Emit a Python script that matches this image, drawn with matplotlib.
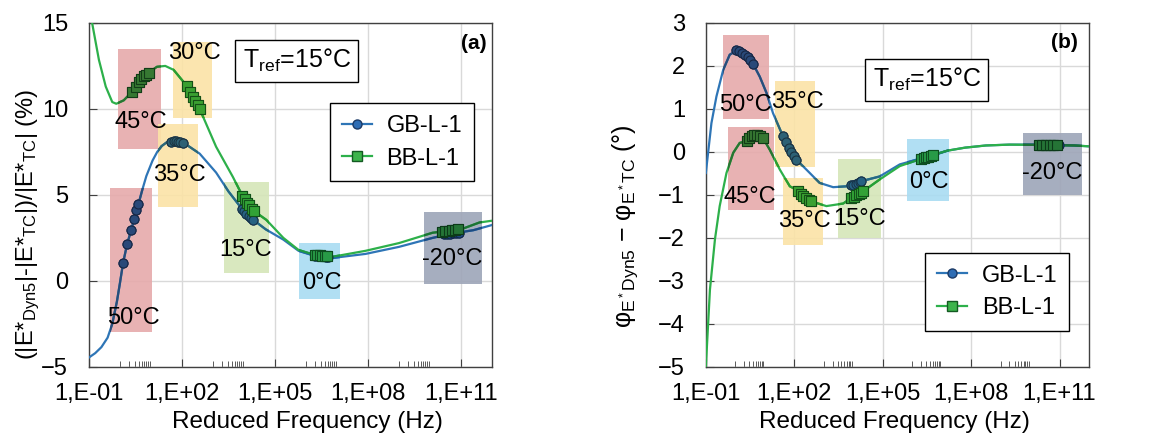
import numpy as np
import matplotlib.pyplot as plt
from matplotlib.colors import to_rgb
from matplotlib.lines import Line2D
from matplotlib.patches import Rectangle
from matplotlib.ticker import FixedLocator, NullFormatter

plt.rcParams['font.family'] = ['Liberation Sans', 'DejaVu Sans']
plt.rcParams['mathtext.fontset'] = 'custom'
plt.rcParams['mathtext.rm'] = 'Liberation Sans'
plt.rcParams['mathtext.it'] = 'Liberation Sans:italic'

# ---- data (x values given as log10 of reduced frequency in Hz) ----
# panel (a): |E*| difference (%)
a_gb_logf = [-1.0, -0.8, -0.6, -0.4, -0.25, -0.1, 0.0, 0.1, 0.23, 0.36, 0.46, 0.6,
             0.72, 0.85, 1.05, 1.2, 1.35, 1.5, 1.66, 1.85, 2.02, 2.2, 2.57, 3.1,
             3.5, 3.93, 4.3, 4.7, 5.27, 5.76, 6.3, 6.84, 7.92, 9.0, 10.08, 10.7,
             11.4, 12.0]
a_gb_val = [-4.45, -4.2, -3.85, -3.3, -2.5, -1.2, -0.1, 1.05, 2.15, 2.95, 3.6, 4.5,
            5.3, 6.1, 7.0, 7.5, 7.85, 8.05, 8.1, 8.1, 8.0, 7.85, 7.4, 6.3,
            5.2, 4.2, 3.55, 3.0, 2.4, 1.75, 1.45, 1.33, 1.57, 1.98, 2.5, 2.75,
            2.95, 3.25]
a_bb_logf = [-1.0, -0.9, -0.68, -0.46, -0.25, -0.12, 0.12, 0.39, 0.6, 0.92, 1.19,
             1.46, 1.73, 2.15, 2.57, 3.1, 3.64, 3.95, 4.33, 4.72, 5.27, 5.76, 6.3,
             6.84, 7.92, 9.0, 10.08, 10.6, 11.0, 11.6, 12.0]
a_bb_val = [16.0, 15.0, 12.85, 11.3, 10.4, 10.3, 10.5, 11.0, 11.55, 12.1, 12.45,
            12.5, 12.27, 11.35, 10.0, 7.8, 6.05, 4.95, 4.05, 3.55, 2.5, 1.8, 1.5,
            1.4, 1.75, 2.2, 2.8, 2.92, 3.0, 3.4, 3.5]

# panel (a) test points
a_gb_pts_logf = [0.1, 0.23, 0.36, 0.46, 0.52, 0.59,          # 50 C
                 1.66, 1.75, 1.82, 1.88, 1.95, 2.02,         # 35 C
                 3.93, 4.0, 4.08, 4.15, 4.22, 4.3,           # 15 C
                 6.3, 6.38, 6.46, 6.55, 6.63, 6.72,          # 0 C
                 10.45, 10.55, 10.65, 10.75, 10.85, 10.95]   # -20 C
a_gb_pts_val = [1.05, 2.15, 2.95, 3.6, 4.1, 4.5,
                8.1, 8.12, 8.12, 8.1, 8.07, 8.0,
                4.2, 4.05, 3.9, 3.8, 3.65, 3.55,
                1.45, 1.44, 1.43, 1.42, 1.41, 1.4,
                2.7, 2.72, 2.74, 2.76, 2.78, 2.8]
a_bb_pts_logf = [0.39, 0.5, 0.6, 0.68, 0.76, 0.83, 0.92,     # 45 C
                 2.15, 2.27, 2.35, 2.42, 2.5, 2.57,          # 30 C
                 3.95, 4.03, 4.1, 4.17, 4.25, 4.33,          # 15 C
                 6.28, 6.36, 6.44, 6.52, 6.6, 6.68,          # 0 C
                 10.4, 10.5, 10.6, 10.7, 10.8, 10.9]         # -20 C
a_bb_pts_val = [11.0, 11.3, 11.55, 11.75, 11.9, 12.0, 12.1,
                11.35, 11.0, 10.7, 10.45, 10.2, 10.0,
                4.95, 4.75, 4.55, 4.4, 4.2, 4.05,
                1.5, 1.49, 1.48, 1.47, 1.46, 1.45,
                2.85, 2.88, 2.91, 2.94, 2.97, 3.0]

# panel (b): phase angle difference (deg)
b_gb_logf = [-1.0, -0.81, -0.64, -0.41, -0.19, 0.04, 0.24, 0.42, 0.6, 0.83, 1.06,
             1.28, 1.62, 1.81, 2.07, 2.41, 2.86, 3.32, 3.77, 4.1, 4.28, 4.9, 5.58,
             6.31, 6.71, 7.2, 7.8, 8.5, 9.3, 10.6, 11.5, 12.0]
b_gb_val = [-0.49, 0.67, 1.29, 1.91, 2.26, 2.36, 2.31, 2.2, 2.05, 1.75, 1.37,
            0.9, 0.36, 0.1, -0.18, -0.41, -0.72, -0.82, -0.8, -0.73, -0.68, -0.57, -0.29,
            -0.15, -0.08, 0.03, 0.1, 0.15, 0.17, 0.17, 0.15, 0.13]
b_bb_logf = [-1.0, -0.86, -0.69, -0.53, -0.3, -0.07, 0.15, 0.38, 0.65, 0.94, 1.17,
             1.51, 1.85, 2.13, 2.58, 3.09, 3.66, 3.94, 4.33, 4.9, 5.58, 6.31, 6.71,
             7.2, 7.8, 8.5, 9.3, 10.6, 11.5, 12.0]
b_bb_val = [-5.0, -3.2, -2.03, -1.26, -0.49, -0.02, 0.21, 0.25, 0.39, 0.32, 0.05,
            -0.41, -0.8, -0.9, -1.15, -1.26, -1.2, -1.07, -0.92, -0.64, -0.33, -0.16, -0.07,
            0.03, 0.1, 0.15, 0.17, 0.16, 0.15, 0.13]

b_gb_pts_logf = [0.04, 0.14, 0.24, 0.33, 0.42, 0.51, 0.6,
                 1.62, 1.72, 1.81, 1.9, 1.98, 2.07,
                 3.94, 4.01, 4.08, 4.15, 4.22, 4.28,
                 6.31, 6.39, 6.47, 6.55, 6.63, 6.71,
                 10.4, 10.52, 10.64, 10.76, 10.88, 10.98]
b_gb_pts_val = [2.36, 2.35, 2.31, 2.26, 2.2, 2.13, 2.05,
                0.36, 0.22, 0.1, -0.01, -0.1, -0.18,
                -0.77, -0.76, -0.74, -0.72, -0.7, -0.68,
                -0.15, -0.13, -0.12, -0.1, -0.09, -0.08,
                0.17, 0.17, 0.17, 0.17, 0.17, 0.17]
b_bb_pts_logf = [0.38, 0.47, 0.56, 0.65, 0.75, 0.84, 0.94,
                 2.13, 2.22, 2.31, 2.4, 2.49, 2.58,
                 3.94, 4.02, 4.1, 4.18, 4.26, 4.33,
                 6.31, 6.39, 6.47, 6.55, 6.63, 6.71,
                 10.3, 10.42, 10.54, 10.66, 10.78, 10.9]
b_bb_pts_val = [0.25, 0.32, 0.37, 0.39, 0.39, 0.37, 0.32,
                -0.9, -0.97, -1.03, -1.08, -1.12, -1.15,
                -1.07, -1.04, -1.01, -0.98, -0.95, -0.92,
                -0.16, -0.14, -0.12, -0.11, -0.09, -0.07,
                0.16, 0.16, 0.16, 0.16, 0.16, 0.16]

major_exps = [-1, 2, 5, 8, 11]
xtick_labels = ['1,E-01', '1,E+02', '1,E+05', '1,E+08', '1,E+11']

BLUE = '#2E75B6'
GREEN = '#2DB04A'
BLUE_FACE = '#2E6DB4'
BLUE_EDGE = '#1B3A66'
GREEN_FACE = '#3CB44B'
GREEN_EDGE = '#145A22'

RED_BOX = '#E6AAAB'
YEL_BOX = '#FBE3A6'
GRN_BOX = '#D5E6B8'
CYA_BOX = '#A9DCF2'
GRY_BOX = '#9DA5B8'

# temperature boxes: (x0 exp, x1 exp, y0, y1, colour, label, label x exp, label y)
boxes_a = [
    (-0.32, 1.04, -2.95, 5.4, RED_BOX, '50°C', 0.42, -2.15),
    (-0.06, 1.33, 7.65, 13.5, RED_BOX, '45°C', 0.68, 9.25),
    (1.7, 2.96, 9.5, 13.9, YEL_BOX, '30°C', 2.4, 13.25),
    (1.23, 2.5, 4.3, 9.13, YEL_BOX, '35°C', 1.92, 6.16),
    (3.35, 4.8, 0.47, 5.76, GRN_BOX, '15°C', 4.06, 1.8),
    (5.78, 7.1, -1.05, 2.2, CYA_BOX, '0°C', 6.5, -0.1),
    (9.8, 11.68, -0.17, 4.0, GRY_BOX, '-20°C', 10.7, 1.27),
]
boxes_b = [
    (-0.42, 1.14, 0.77, 2.72, RED_BOX, '50°C', 0.36, 1.1),
    (-0.25, 1.3, -1.36, 0.59, RED_BOX, '45°C', 0.49, -1.04),
    (1.34, 2.7, -0.34, 1.65, YEL_BOX, '35°C', 2.12, 1.17),
    (1.61, 2.97, -2.17, -0.6, YEL_BOX, '35°C', 2.36, -1.6),
    (3.47, 4.93, -2.0, -0.16, GRN_BOX, '15°C', 4.22, -1.57),
    (5.81, 7.24, -1.15, 0.31, CYA_BOX, '0°C', 6.56, -0.69),
    (9.75, 11.75, -1.01, 0.45, GRY_BOX, '-20°C', 10.76, -0.48),
]

FS = 17


def mult(c, tint):
    # multiply blend, as the shaded boxes in the original
    if tint is None:
        return c
    return tuple(a * b for a, b in zip(to_rgb(c), to_rgb(tint)))


def draw_series(ax, gb, bb, gb_pts, bb_pts, tint=None, clip=None, z=3):
    arts = []
    arts += ax.plot(10.0 ** np.array(gb[0]), gb[1], color=mult(BLUE, tint), lw=1.6, zorder=z)
    arts += ax.plot(10.0 ** np.array(bb[0]), bb[1], color=mult(GREEN, tint), lw=1.6, zorder=z)
    arts += ax.plot(10.0 ** np.array(gb_pts[0]), gb_pts[1], 'o', ms=6.5,
                    mfc=mult(BLUE_FACE, tint), mec=mult(BLUE_EDGE, tint), mew=0.8, zorder=z + 0.1)
    arts += ax.plot(10.0 ** np.array(bb_pts[0]), bb_pts[1], 's', ms=6.5,
                    mfc=mult(GREEN_FACE, tint), mec=mult(GREEN_EDGE, tint), mew=0.8, zorder=z + 0.2)
    if clip is not None:
        for a in arts:
            a.set_clip_path(clip)


def draw_panel(ax, gb, bb, gb_pts, bb_pts, boxes, ylim, yticks):
    draw_series(ax, gb, bb, gb_pts, bb_pts)
    for x0, x1, y0, y1, c, lab, lx, ly in boxes:
        rect = Rectangle((10.0 ** x0, y0), 10.0 ** x1 - 10.0 ** x0, y1 - y0,
                         facecolor=c, alpha=0.9, lw=0, zorder=2)
        ax.add_patch(rect)
        draw_series(ax, gb, bb, gb_pts, bb_pts, tint=c, clip=rect, z=3.5)
        ax.text(10.0 ** lx, ly, lab, fontsize=FS, ha='center', va='center', zorder=7)

    ax.set_xscale('log')
    ax.set_xlim(1e-1, 1e12)
    ax.set_ylim(*ylim)
    ax.set_yticks(yticks)
    ax.set_xticks([10.0 ** e for e in major_exps])
    ax.set_xticklabels(xtick_labels)
    minors = [k * 10.0 ** (e + 1) for e in major_exps for k in range(1, 10)]
    minors = [m for m in minors if m <= 1e12]
    ax.xaxis.set_minor_locator(FixedLocator(minors))
    ax.xaxis.set_minor_formatter(NullFormatter())
    ax.tick_params(axis='both', which='major', direction='in', length=6,
                   width=0.8, color='#404040', labelsize=FS)
    ax.tick_params(axis='y', which='major', pad=15)
    ax.tick_params(axis='x', which='major', pad=11.5)
    ax.tick_params(axis='x', which='minor', direction='in', length=4,
                   width=0.6, color='#404040')
    ax.grid(True, which='major', color='#D9D9D9', lw=1.0, zorder=0)
    ax.set_axisbelow(True)
    for s in ax.spines.values():
        s.set_color('#404040')
        s.set_linewidth(1.0)
    ax.set_xlabel('Reduced Frequency (Hz)', fontsize=FS + 0.5)


fig = plt.figure(figsize=(11.59, 4.41), dpi=100)
ax1 = fig.add_axes([0.0768, 0.168, 0.3477, 0.780])
ax2 = fig.add_axes([0.609, 0.168, 0.3306, 0.780])

draw_panel(ax1, (a_gb_logf, a_gb_val), (a_bb_logf, a_bb_val),
           (a_gb_pts_logf, a_gb_pts_val), (a_bb_pts_logf, a_bb_pts_val),
           boxes_a, (-5, 15), [-5, 0, 5, 10, 15])
draw_panel(ax2, (b_gb_logf, b_gb_val), (b_bb_logf, b_bb_val),
           (b_gb_pts_logf, b_gb_pts_val), (b_bb_pts_logf, b_bb_pts_val),
           boxes_b, (-5, 3), [-5, -4, -3, -2, -1, 0, 1, 2, 3])

ax1.xaxis.set_label_coords(0.541, -0.128)
ax2.xaxis.set_label_coords(0.492, -0.128)

ax1.set_ylabel(r'(|E*$_{\mathrm{Dyn5}}$|-|E*$_{\mathrm{TC}}$|)/|E*$_{\mathrm{TC}}$| (%)',
               fontsize=FS)
ax1.yaxis.set_label_coords(-0.117, 0.413)
ax2.set_ylabel(r'φ$_{\mathrm{E^*Dyn5}}$ $-$ φ$_{\mathrm{E^*TC}}$ (°)', fontsize=FS + 1)
ax2.yaxis.set_label_coords(-0.172, 0.409)

handles = [
    Line2D([], [], color=BLUE, lw=1.6, marker='o', ms=6.5, mfc=BLUE_FACE, mec=BLUE_EDGE),
    Line2D([], [], color=GREEN, lw=1.6, marker='s', ms=6.5, mfc=GREEN_FACE, mec=GREEN_EDGE),
]
for ax, loc, anchor in [(ax1, 'upper right', (0.955, 0.767)),
                        (ax2, 'lower right', (0.948, 0.104))]:
    leg = ax.legend(handles, ['GB-L-1', 'BB-L-1'], loc=loc, bbox_to_anchor=anchor,
                    fontsize=FS, frameon=True, fancybox=False, framealpha=1,
                    edgecolor='black', borderaxespad=0, handlelength=1.3,
                    handletextpad=0.6, labelspacing=0.45, borderpad=0.5)
    leg.get_frame().set_linewidth(1.0)
    leg.set_zorder(10)

for ax, pos in [(ax1, (0.515, 0.89)), (ax2, (0.577, 0.835))]:
    ax.text(pos[0], pos[1], r'T$_{\mathrm{ref}}$=15°C', transform=ax.transAxes,
            fontsize=FS + 1, ha='center', va='center', zorder=10,
            bbox=dict(boxstyle='square,pad=0.3', fc='white', ec='black', lw=1.0))

ax1.text(0.955, 0.94, '(a)', transform=ax1.transAxes, fontsize=15,
         fontweight='bold', ha='center', va='center', zorder=10)
ax2.text(0.937, 0.942, '(b)', transform=ax2.transAxes, fontsize=15,
         fontweight='bold', ha='center', va='center', zorder=10)

fig.savefig('out.png', dpi=100)
